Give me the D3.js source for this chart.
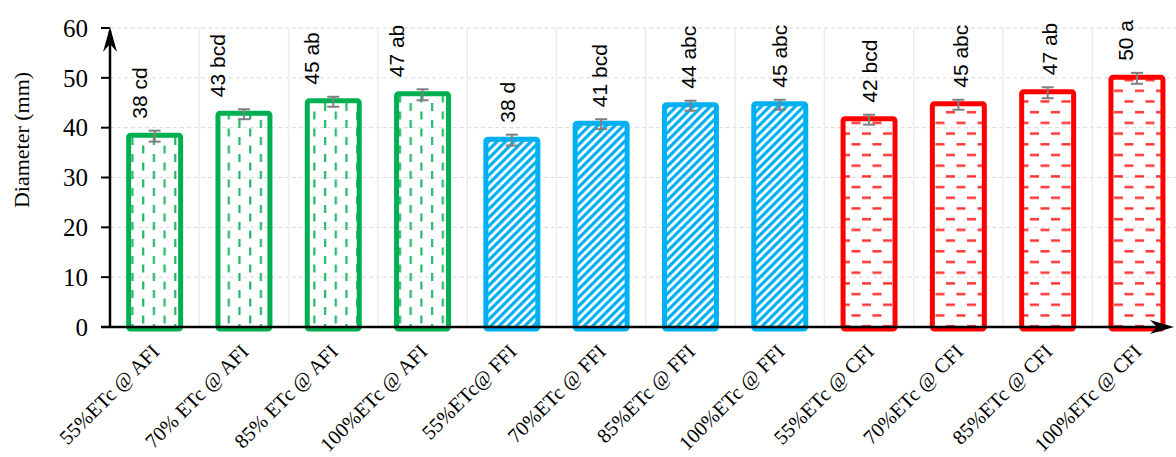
<!DOCTYPE html>
<html><head><meta charset="utf-8">
<script src="https://cdn.jsdelivr.net/npm/d3@7"></script>
<style>body{margin:0;background:#fff}svg{display:block}
.serif{font-family:"Liberation Serif","Times New Roman",serif}
.sans{font-family:"Liberation Sans",Arial,sans-serif}</style>
</head><body>
<svg id="chart" width="1176" height="457"></svg>
<script>
const categories = ["55%ETc @ AFI","70% ETc @ AFI","85% ETc @ AFI","100%ETc @ AFI",
  "55%ETc@ FFI","70%ETc @ FFI","85%ETc @ FFI","100%ETc @ FFI",
  "55%ETc @ CFI","70%ETc @ CFI","85%ETc @ CFI","100%ETc @ CFI"];
const values = [38.3, 42.7, 45.2, 46.6, 37.5, 40.7, 44.4, 44.6, 41.6, 44.6, 47.0, 49.9];
const errors = [1.1, 1.0, 1.0, 1.1, 1.1, 1.0, 1.0, 1.0, 1.0, 1.0, 1.1, 1.1];
const letterLabels = ["38 cd","43 bcd","45 ab","47 ab","38 d","41 bcd","44 abc","45 abc","42 bcd","45 abc","47 ab","50 a"];
const groups = ["AFI","AFI","AFI","AFI","FFI","FFI","FFI","FFI","CFI","CFI","CFI","CFI"];
const yTicks = [0,10,20,30,40,50,60];

const colors = {AFI:"#00B050", FFI:"#00B0F0", CFI:"#FF0000"};
const svg = d3.select("#chart");
const x0 = 110, y0 = 327, yTop = 28;
const x = d3.scaleBand().domain(categories).range([x0, x0 + 12*89.3]).paddingInner(0.362).paddingOuter(0.181);
const y = d3.scaleLinear().domain([0,60]).range([y0, yTop]);

// patterns
const defs = svg.append("defs");
const pG = defs.append("pattern").attr("id","pAFI").attr("patternUnits","userSpaceOnUse")
  .attr("width",21.4).attr("height",17);
pG.append("rect").attr("x",3).attr("y",1).attr("width",2.2).attr("height",8).attr("fill","#22b868");
pG.append("rect").attr("x",13.7).attr("y",9.5).attr("width",2.2).attr("height",8).attr("fill","#22b868");
pG.append("rect").attr("x",13.7).attr("y",-7.5).attr("width",2.2).attr("height",8).attr("fill","#22b868");
const pB = defs.append("pattern").attr("id","pFFI").attr("patternUnits","userSpaceOnUse")
  .attr("width",6).attr("height",6).attr("patternTransform","rotate(45)");
pB.append("rect").attr("x",0).attr("y",0).attr("width",3.2).attr("height",6).attr("fill","#00B0F0");
const pR = defs.append("pattern").attr("id","pCFI").attr("patternUnits","userSpaceOnUse")
  .attr("width",21).attr("height",21.4);
pR.append("rect").attr("x",1).attr("y",4).attr("width",9).attr("height",2.4).attr("fill","#ff3030");
pR.append("rect").attr("x",11.5).attr("y",14.7).attr("width",9).attr("height",2.4).attr("fill","#ff3030");

// gridlines
svg.append("g").selectAll("line").data(yTicks.slice(1)).join("line")
  .attr("x1",x0).attr("x2",1176).attr("y1",d=>y(d)).attr("y2",d=>y(d))
  .attr("stroke","#d9d9d9").attr("stroke-width",1).attr("stroke-dasharray","4,3");
svg.append("g").selectAll("line").data(categories.slice(1)).join("line")
  .attr("x1",d=>x(d)-x.step()*x.paddingInner()/2).attr("x2",d=>x(d)-x.step()*x.paddingInner()/2)
  .attr("y1",yTop).attr("y2",y0).attr("stroke","#ececec").attr("stroke-width",1.5);

// bars
const sw = 5;
svg.append("g").selectAll("rect").data(categories).join("rect")
  .attr("x",(d)=>x(d)+sw/2).attr("width",x.bandwidth()-sw)
  .attr("y",(d,i)=>y(values[i])-1).attr("height",(d,i)=>y(0)+2-(y(values[i])-1))
  .attr("fill",(d,i)=>"url(#p"+groups[i]+")")
  .attr("stroke",(d,i)=>colors[groups[i]]).attr("stroke-width",sw)
  .attr("rx",2).attr("stroke-linejoin","round");

// error bars
const eb = svg.append("g").attr("stroke","#808080").attr("stroke-width",2);
categories.forEach((c,i)=>{
  const cx = x(c)+x.bandwidth()/2;
  const t = y(values[i]+errors[i]), b = y(values[i]-errors[i]);
  eb.append("line").attr("x1",cx).attr("x2",cx).attr("y1",t).attr("y2",b);
  eb.append("line").attr("x1",cx-6).attr("x2",cx+6).attr("y1",t).attr("y2",t);
  eb.append("line").attr("x1",cx-6).attr("x2",cx+6).attr("y1",b).attr("y2",b);
});

// value labels (hand-placed text boxes in the original: small horizontal nudges)
const nudge = [-15,-26,-22,-26,-4,-2,-2,0,0,2,2,-11];
svg.append("g").selectAll("text").data(categories).join("text").attr("class","sans")
  .attr("transform",(d,i)=>`translate(${x(d)+x.bandwidth()/2+nudge[i]+7.5},${y(values[i]+errors[i])-12}) rotate(-90)`)
  .attr("font-size",21).attr("fill","#000").text((d,i)=>letterLabels[i]);

// axes
const ax = svg.append("g");
ax.append("line").attr("x1",101).attr("x2",1168).attr("y1",y0).attr("y2",y0).attr("stroke","#000").attr("stroke-width",2.5);
ax.append("line").attr("x1",x0).attr("x2",x0).attr("y1",y0+1).attr("y2",yTop+3).attr("stroke","#000").attr("stroke-width",2.5);
ax.append("path").attr("d",`M${x0},${yTop-1} L${x0-7},${yTop+24} L${x0},${yTop+16} L${x0+7},${yTop+24} Z`).attr("fill","#000");
ax.append("path").attr("d",`M1174,${y0} L1150,${y0-7} L1157,${y0} L1150,${y0+7} Z`).attr("fill","#000");
ax.selectAll(".tk").data(yTicks).join("line").attr("class","tk")
  .attr("x1",101).attr("x2",x0).attr("y1",d=>y(d)).attr("y2",d=>y(d)).attr("stroke","#000").attr("stroke-width",2);
ax.selectAll(".tl").data(yTicks).join("text").attr("class","tl serif")
  .attr("x",88).attr("y",d=>y(d)).attr("dy","0.35em").attr("text-anchor","end")
  .attr("font-size",25).text(d=>d);
svg.append("text").attr("class","serif").attr("transform","translate(29,140) rotate(-90)").attr("text-anchor","middle")
  .attr("font-size",22).text("Diameter (mm)");

// x labels
svg.append("g").selectAll("text").data(categories).join("text").attr("class","serif")
  .attr("transform",d=>`translate(${x(d)+x.bandwidth()/2+6},${353}) rotate(-45)`)
  .attr("text-anchor","end").attr("font-size",20.5).text(d=>d);
</script>
</body></html>
